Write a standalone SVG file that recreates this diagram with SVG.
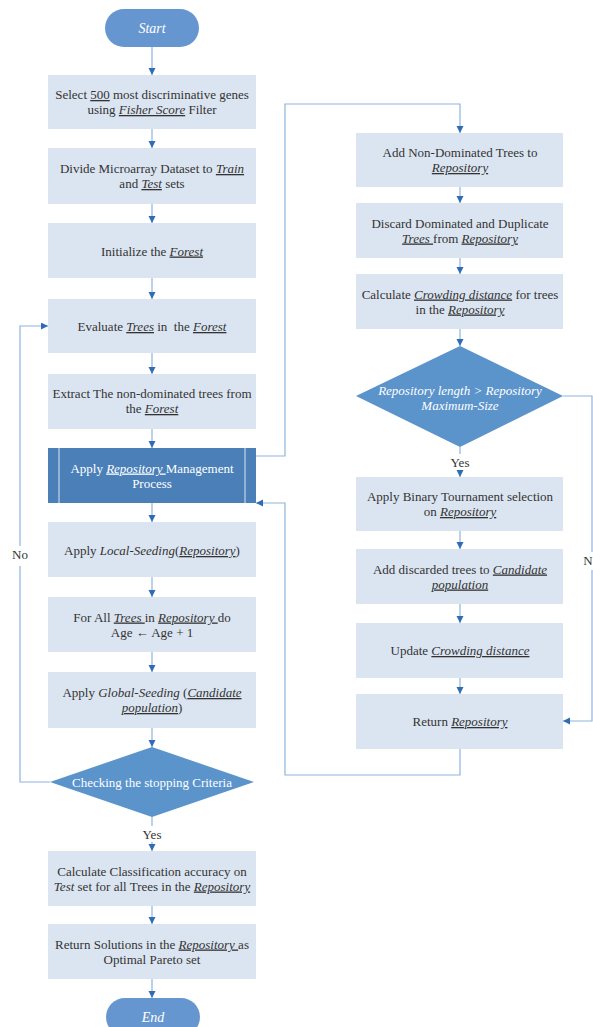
<svg xmlns="http://www.w3.org/2000/svg" width="593" height="1027" viewBox="0 0 593 1027">
<style>
.box{fill:#dbe5f1}
.dark{fill:#4a7fb8}
.dia{fill:#5b93cb}
.pill{fill:#6596cf}
.t{font-family:"Liberation Serif","Times New Roman",serif;font-size:13px;fill:#333;text-anchor:middle}
.w{fill:#fff}
.i{font-style:italic}
.u{text-decoration:underline}
.ln{fill:none;stroke:#8fb4de;stroke-width:1.2}
.inner{stroke:#dbe5f1;stroke-width:1}
</style>
<defs>
<marker id="ar" markerUnits="userSpaceOnUse" markerWidth="8" markerHeight="8" refX="7" refY="3.5" orient="auto">
<path d="M0,0 L7,3.5 L0,7 z" fill="#2e6db4"/>
</marker>
</defs>
<rect width="593" height="1027" fill="#fff"/>

<g id="connectors">
<path class="ln" d="M152 47 V75" marker-end="url(#ar)"/>
<path class="ln" d="M152 129 V148" marker-end="url(#ar)"/>
<path class="ln" d="M152 204 V223" marker-end="url(#ar)"/>
<path class="ln" d="M152 278 V299" marker-end="url(#ar)"/>
<path class="ln" d="M152 353 V374" marker-end="url(#ar)"/>
<path class="ln" d="M152 429 V448" marker-end="url(#ar)"/>
<path class="ln" d="M152 503 V522" marker-end="url(#ar)"/>
<path class="ln" d="M152 577 V597" marker-end="url(#ar)"/>
<path class="ln" d="M152 652 V672" marker-end="url(#ar)"/>
<path class="ln" d="M152 728 V747" marker-end="url(#ar)"/>
<path class="ln" d="M152 817 V826 M152 842 V851" marker-end="url(#ar)"/>
<path class="ln" d="M152 906 V924" marker-end="url(#ar)"/>
<path class="ln" d="M152 979 V998" marker-end="url(#ar)"/>
<path class="ln" d="M50 782 H20 V566 M20 546 V326 H48" marker-end="url(#ar)"/>
<path class="ln" d="M256 456 H285 V104 H460 V133" marker-end="url(#ar)"/>
<path class="ln" d="M460 749 V775 H285 V503 H256" marker-end="url(#ar)"/>
<path class="ln" d="M460 187 V203" marker-end="url(#ar)"/>
<path class="ln" d="M460 258 V274" marker-end="url(#ar)"/>
<path class="ln" d="M460 329 V346" marker-end="url(#ar)"/>
<path class="ln" d="M460 447 V454 M460 470 V477" marker-end="url(#ar)"/>
<path class="ln" d="M460 531 V549" marker-end="url(#ar)"/>
<path class="ln" d="M460 604 V623" marker-end="url(#ar)"/>
<path class="ln" d="M460 678 V694" marker-end="url(#ar)"/>
<path class="ln" d="M563 396 H592 V552 M592 570 V721 H563" marker-end="url(#ar)"/>
<text class="t" x="20" y="558.5">No</text>
<text class="t" x="152" y="838.5">Yes</text>
<text class="t" x="460" y="466.5">Yes</text>
<text class="t" x="588" y="564.5">N</text>
</g>

<g id="start">
<rect class="pill" x="105" y="9" width="94" height="38" rx="19"/>
<text class="t w i" x="152" y="33" style="font-size:14px">Start</text>
</g>

<g id="select">
<rect class="box" x="48" y="75" width="208" height="54"/>
<text class="t" x="152" y="99">Select <tspan class="u">500</tspan> most discriminative genes</text>
<text class="t" x="152" y="114">using <tspan class="i u">Fisher Score</tspan> Filter</text>
</g>

<g id="divide">
<rect class="box" x="48" y="148" width="208" height="56"/>
<text class="t" x="152" y="173">Divide Microarray Dataset to <tspan class="i u">Train</tspan></text>
<text class="t" x="152" y="188">and <tspan class="i u">Test</tspan> sets</text>
</g>

<g id="init">
<rect class="box" x="48" y="223" width="208" height="55"/>
<text class="t" x="152" y="255.5">Initialize the <tspan class="i u">Forest</tspan></text>
</g>

<g id="evaluate">
<rect class="box" x="48" y="299" width="208" height="54"/>
<text class="t" x="152" y="331" xml:space="preserve">Evaluate <tspan class="i u">Trees</tspan> in  the <tspan class="i u">Forest</tspan></text>
</g>

<g id="extract">
<rect class="box" x="48" y="374" width="208" height="55"/>
<text class="t" x="152" y="398">Extract The non-dominated trees from</text>
<text class="t" x="152" y="413">the <tspan class="i u">Forest</tspan></text>
</g>

<g id="repo-mgmt">
<rect class="dark" x="48" y="448" width="208" height="55"/>
<line class="inner" x1="59" y1="448" x2="59" y2="503"/>
<line class="inner" x1="245" y1="448" x2="245" y2="503"/>
<text class="t w" x="152" y="472.5">Apply <tspan class="i u">Repository </tspan>Management</text>
<text class="t w" x="152" y="487.5">Process</text>
</g>

<g id="local">
<rect class="box" x="48" y="522" width="208" height="55"/>
<text class="t" x="152" y="555">Apply <tspan class="i">Local-Seeding</tspan>(<tspan class="i u">Repository</tspan>)</text>
</g>

<g id="forall">
<rect class="box" x="48" y="597" width="208" height="55"/>
<text class="t" x="152" y="621.5">For All <tspan class="i u">Trees </tspan>in <tspan class="i u">Repository </tspan>do</text>
<text class="t" x="152" y="636.5">Age ← Age + 1</text>
</g>

<g id="global">
<rect class="box" x="48" y="672" width="208" height="56"/>
<text class="t" x="152" y="697">Apply <tspan class="i">Global-Seeding</tspan> (<tspan class="i u">Candidate</tspan></text>
<text class="t" x="152" y="712"><tspan class="i u">population</tspan>)</text>
</g>

<g id="check">
<polygon class="dia" points="152,747 254,782 152,817 50,782"/>
<text class="t w" x="152" y="786.5">Checking the stopping Criteria</text>
</g>

<g id="calc-acc">
<rect class="box" x="48" y="851" width="208" height="55"/>
<text class="t" x="152" y="875.5">Calculate Classification accuracy on</text>
<text class="t" x="152" y="890.5"><tspan class="i">Test</tspan> set for all Trees in the <tspan class="i u">Repository</tspan></text>
</g>

<g id="return-sol">
<rect class="box" x="48" y="924" width="208" height="55"/>
<text class="t" x="152" y="948.5">Return Solutions in the <tspan class="i u">Repository </tspan>as</text>
<text class="t" x="152" y="963.5">Optimal Pareto set</text>
</g>

<g id="end">
<rect class="pill" x="106" y="998" width="94" height="38" rx="19"/>
<text class="t w i" x="153" y="1022" style="font-size:14px">End</text>
</g>

<g id="add-nd">
<rect class="box" x="356" y="133" width="207" height="54"/>
<text class="t" x="460" y="157">Add Non-Dominated Trees to</text>
<text class="t" x="460" y="172"><tspan class="i u">Repository</tspan></text>
</g>

<g id="discard">
<rect class="box" x="356" y="203" width="207" height="55"/>
<text class="t" x="460" y="227.5">Discard Dominated and Duplicate</text>
<text class="t" x="460" y="242.5"><tspan class="i u">Trees </tspan>from <tspan class="i u">Repository</tspan></text>
</g>

<g id="crowd">
<rect class="box" x="356" y="274" width="207" height="55"/>
<text class="t" x="460" y="298.5">Calculate <tspan class="i u">Crowding distance</tspan> for trees</text>
<text class="t" x="460" y="313.5">in the <tspan class="i u">Repository</tspan></text>
</g>

<g id="repo-len">
<polygon class="dia" points="460,346 563,396 460,447 356,396"/>
<text class="t w i" x="460" y="394.5">Repository length &gt; Repository</text>
<text class="t w i" x="460" y="409.5">Maximum-Size</text>
</g>

<g id="binary">
<rect class="box" x="356" y="477" width="207" height="54"/>
<text class="t" x="460" y="501">Apply Binary Tournament selection</text>
<text class="t" x="460" y="516">on <tspan class="i u">Repository</tspan></text>
</g>

<g id="add-disc">
<rect class="box" x="356" y="549" width="207" height="55"/>
<text class="t" x="460" y="573.5">Add discarded trees to <tspan class="i u">Candidate</tspan></text>
<text class="t" x="460" y="588.5"><tspan class="i u">population</tspan></text>
</g>

<g id="update">
<rect class="box" x="356" y="623" width="207" height="55"/>
<text class="t" x="460" y="655">Update <tspan class="i u">Crowding distance</tspan></text>
</g>

<g id="return-repo">
<rect class="box" x="356" y="694" width="207" height="55"/>
<text class="t" x="460" y="726">Return <tspan class="i u">Repository</tspan></text>
</g>
</svg>
